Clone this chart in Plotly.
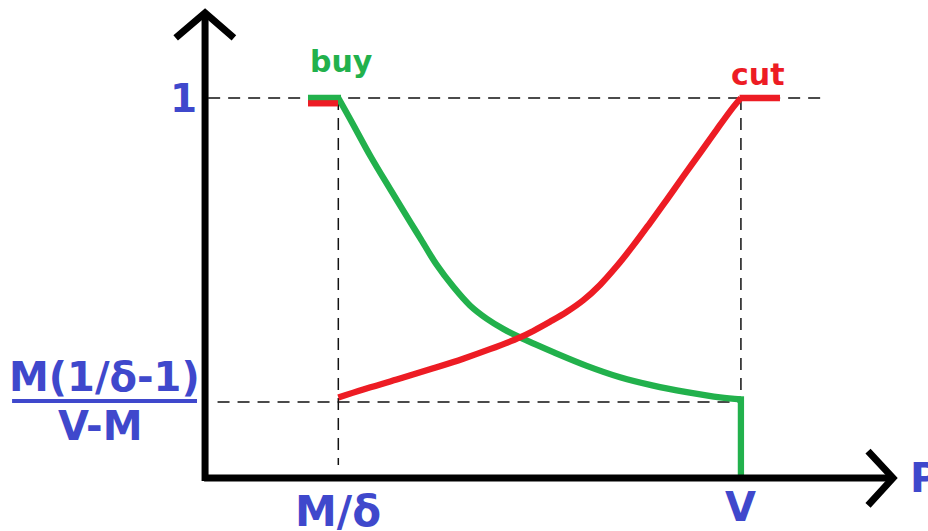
import plotly.graph_objects as go

# ---- data (abstract units: x in units of M/delta, y probability) ----
x_tick_vals = [1.0, 4.0]
x_tick_text = ["M/δ", "V"]
y_tick_vals = [0.2, 1.0]
y_tick_text = ["M(1/δ-1)", "1"]
y_tick_denominator = "V-M"

# None separates the flat part, the curved part and the vertical drop
buy_x = [0.774, 1.02, None,
         1.0, 1.100, 1.241, 1.390, 1.542, 1.609, 1.733, 1.857, 1.981, 2.106,
         2.230, 2.354, 2.478, 2.602, 2.851, 3.099, 3.347, 3.596, 3.844, 4.0, None,
         4.0, 4.0]
buy_y = [1.0, 1.0, None,
         1.0, 0.937, 0.846, 0.758, 0.670, 0.632, 0.561, 0.503, 0.454, 0.419,
         0.392, 0.370, 0.350, 0.331, 0.295, 0.265, 0.243, 0.226, 0.212, 0.207, None,
         0.215, 0.0]

cut_x = [0.774, 0.998, None,
         1.0, 1.186, 1.435, 1.683, 1.931, 2.130, 2.354, 2.453, 2.577, 2.702,
         2.826, 2.950, 3.074, 3.198, 3.322, 3.447, 3.571, 3.695, 3.820, 3.943, 4.0, None,
         3.99, 4.291]
cut_y = [0.986, 0.986, None,
         0.212, 0.233, 0.259, 0.286, 0.314, 0.339, 0.370, 0.387, 0.411, 0.437,
         0.468, 0.508, 0.557, 0.612, 0.671, 0.732, 0.794, 0.855, 0.917, 0.976, 1.0, None,
         1.0, 1.0]

series_names = ["buy", "cut"]
axis_name_x = "P"

GREEN = "#22b14c"
RED = "#ed1c24"
BLUE = "#3f48cc"
FONT = "DejaVu Sans"

fig = go.Figure()
fig.add_trace(go.Scatter(x=buy_x, y=buy_y, mode="lines", name=series_names[0],
                         line=dict(color=GREEN, width=6.3, shape="spline", smoothing=1.0),
                         connectgaps=False, hoverinfo="skip"))
fig.add_trace(go.Scatter(x=cut_x, y=cut_y, mode="lines", name=series_names[1],
                         line=dict(color=RED, width=6.3, shape="spline", smoothing=1.0),
                         connectgaps=False, hoverinfo="skip"))

shapes = []
dash_style = dict(color="#111111", width=1.5, dash="12px,8px")
# guide lines
shapes.append(dict(type="line", xref="x", yref="y", x0=0.03, x1=4.627,
                   y0=y_tick_vals[1], y1=y_tick_vals[1], line=dash_style, layer="below"))
shapes.append(dict(type="line", xref="x", yref="y", x0=0.1, x1=x_tick_vals[1],
                   y0=y_tick_vals[0], y1=y_tick_vals[0], line=dash_style, layer="below"))
shapes.append(dict(type="line", xref="x", yref="y", x0=x_tick_vals[0], x1=x_tick_vals[0],
                   y0=y_tick_vals[1], y1=0.034, line=dash_style, layer="below"))
shapes.append(dict(type="line", xref="x", yref="y", x0=x_tick_vals[1], x1=x_tick_vals[1],
                   y0=y_tick_vals[1], y1=y_tick_vals[0], line=dash_style, layer="below"))
# axes with open arrowheads
axis_line = dict(color="black", width=7)
shapes.append(dict(type="path", xref="x", yref="y",
                   path="M 0.007,-0.008 L 0.007,1.224", line=axis_line))
shapes.append(dict(type="path", xref="x", yref="y",
                   path="M -0.212,1.158 L 0.007,1.224 L 0.222,1.158", line=axis_line))
shapes.append(dict(type="path", xref="x", yref="y",
                   path="M 0.0,0 L 5.133,0", line=axis_line))
shapes.append(dict(type="path", xref="x", yref="y",
                   path="M 4.947,0.071 L 5.133,0 L 4.947,-0.072", line=axis_line))
# fraction bar of the lower y label
shapes.append(dict(type="line", xref="x", yref="y", x0=-1.431, x1=-0.053,
                   y0=0.2026, y1=0.2026, line=dict(color=BLUE, width=4)))

def txt(x, y, text, size, color, xanchor="center"):
    return dict(x=x, y=y, xref="x", yref="y", text=text, showarrow=False,
                xanchor=xanchor, yanchor="middle",
                font=dict(family=FONT, size=size, color=color, weight="bold"))

annotations = [
    txt(1.02, 1.097, series_names[0], 30, GREEN),
    txt(4.12, 1.063, series_names[1], 30, RED),
    txt(-0.157, y_tick_vals[1], y_tick_text[1], 39, BLUE),
    txt(-0.742, 0.265, y_tick_text[0], 40, BLUE),
    txt(-0.779, 0.137, y_tick_denominator, 40, BLUE),
    txt(x_tick_vals[0], -0.089, x_tick_text[0], 42, BLUE),
    txt(x_tick_vals[1], -0.076, x_tick_text[1], 40, BLUE),
    txt(5.245, 0.0, axis_name_x, 40, BLUE, xanchor="left"),
]

fig.update_layout(
    width=928, height=531,
    margin=dict(l=0, r=0, t=0, b=0),
    paper_bgcolor="white", plot_bgcolor="white",
    showlegend=False,
    xaxis=dict(range=[-1.521, 5.394], visible=False, fixedrange=True),
    yaxis=dict(range=[-0.1395, 1.2579], visible=False, fixedrange=True),
    shapes=shapes,
    annotations=annotations,
)

fig.write_html("out.html", config={"displayModeBar": False},
               post_script="document.body.style.margin='0px';document.body.style.overflow='hidden';")
